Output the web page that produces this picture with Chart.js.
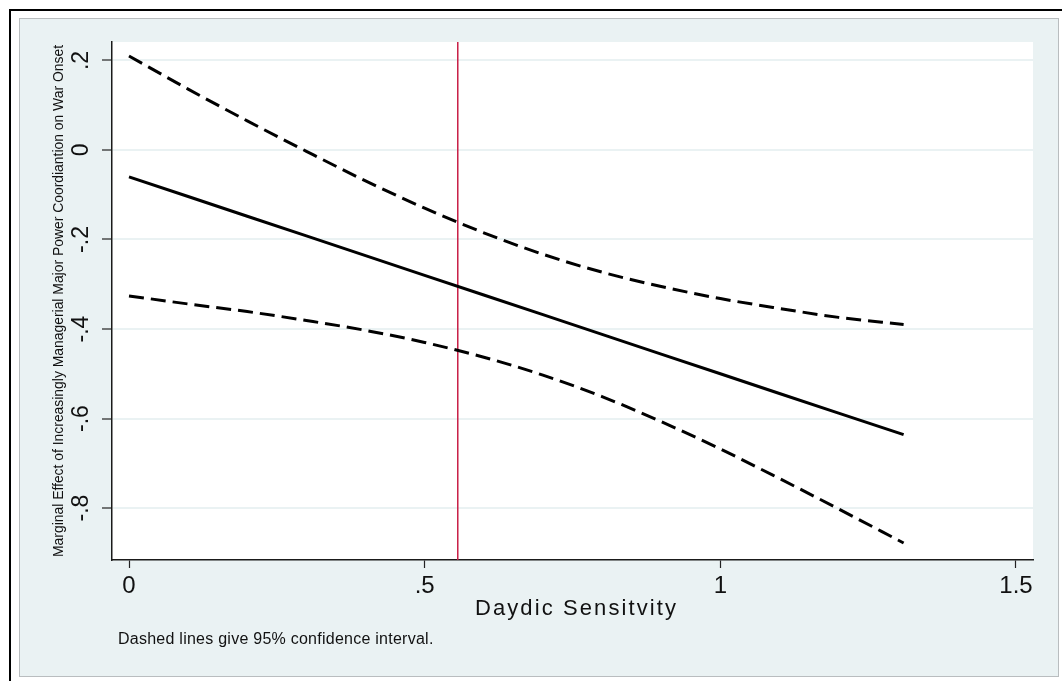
<!DOCTYPE html>
<html>
<head>
<meta charset="utf-8">
<script src="https://cdn.jsdelivr.net/npm/chart.js@4.4.1/dist/chart.umd.min.js"></script>
<style>
  html, body { margin: 0; padding: 0; background: #ffffff; }
  canvas { display: block; }
</style>
</head>
<body>
<canvas id="chart" width="1062" height="681"></canvas>
<script>
// Marginal effect of managerial major power coordination across dyadic sensitivity
const sensitivity    = [0, 0.1, 0.2, 0.3, 0.4, 0.5, 0.6, 0.7, 0.8, 0.9, 1.0, 1.1, 1.2, 1.31];
const marginalEffect = [-0.060, -0.104, -0.148, -0.192, -0.236, -0.280, -0.324, -0.368, -0.412, -0.456, -0.500, -0.544, -0.588, -0.636];
const upperBound     = [0.210, 0.136, 0.065, -0.003, -0.069, -0.130, -0.185, -0.233, -0.273, -0.305, -0.332, -0.354, -0.374, -0.390];
const lowerBound     = [-0.326, -0.344, -0.361, -0.381, -0.403, -0.430, -0.463, -0.503, -0.551, -0.607, -0.668, -0.734, -0.802, -0.878];
const referenceX     = [0.556];

const xTickValues = [0, 0.5, 1, 1.5];
const xTickLabels = ['0', '.5', '1', '1.5'];
const yTickValues = [0.2, 0, -0.2, -0.4, -0.6, -0.8];
const yTickLabels = ['.2', '0', '-.2', '-.4', '-.6', '-.8'];

const xTitle = 'Daydic Sensitvity';
const yTitle = 'Marginal Effect of Increasingly Managerial Major Power Coordiantion on War Onset';
const noteText = 'Dashed lines give 95% confidence interval.';

// axis limits
const X_MIN = -0.02875, X_MAX = 1.5288;
const Y_MIN = -0.916,   Y_MAX = 0.2412;

const FONT = '"Liberation Sans", Arial, Helvetica, sans-serif';
const PANEL = '#EAF2F3';

const toPoints = (xs, ys) => xs.map((x, i) => ({ x: x, y: ys[i] }));

// draw a string character by character with extra tracking
function trackedText(ctx, text, x, y, spacing) {
  let cx = x;
  for (const ch of text) {
    ctx.fillText(ch, cx, y);
    cx += ctx.measureText(ch).width + spacing;
  }
}
function trackedWidth(ctx, text, spacing) {
  let w = 0;
  for (const ch of text) w += ctx.measureText(ch).width + spacing;
  return w - spacing;
}

const framePlugin = {
  id: 'frame',
  beforeDraw(chart) {
    const { ctx, chartArea: a, width: W, height: H } = chart;
    ctx.save();
    ctx.fillStyle = '#ffffff';
    ctx.fillRect(0, 0, W, H);
    // outer black frame (top and left)
    ctx.fillStyle = '#000000';
    ctx.fillRect(9, 9, W - 9, 2);
    ctx.fillRect(9, 9, 2, H - 9);
    // graph region
    ctx.fillStyle = PANEL;
    ctx.fillRect(19.5, 18.5, 1039, 658);
    ctx.strokeStyle = '#b9bdbf';
    ctx.lineWidth = 1;
    ctx.strokeRect(19.5, 18.5, 1039, 658);
    // plot region
    ctx.fillStyle = '#ffffff';
    ctx.fillRect(a.left, a.top, a.right - a.left, a.bottom - a.top);
    ctx.restore();
  },
  afterDraw(chart) {
    const { ctx, chartArea: a } = chart;
    const ys = chart.scales.y;
    ctx.save();
    ctx.fillStyle = '#111111';

    // y tick labels, rotated
    ctx.font = '23px ' + FONT;
    ctx.textAlign = 'center';
    ctx.textBaseline = 'alphabetic';
    yTickValues.forEach((v, i) => {
      const py = ys.getPixelForValue(v);
      ctx.save();
      ctx.translate(88, py);
      ctx.rotate(-Math.PI / 2);
      ctx.fillText(yTickLabels[i], 0, 0);
      ctx.restore();
    });

    // y axis title, condensed, centred on the plot region
    ctx.save();
    ctx.font = '14px ' + FONT;
    ctx.textAlign = 'center';
    const tw = ctx.measureText(yTitle).width;
    ctx.translate(63, (a.top + a.bottom) / 2);
    ctx.rotate(-Math.PI / 2);
    ctx.scale(512 / tw, 1);
    ctx.fillText(yTitle, 0, 0);
    ctx.restore();

    // x axis title
    ctx.font = '22px ' + FONT;
    ctx.textAlign = 'left';
    const cx = (a.left + a.right) / 2 + 3;
    const xw = trackedWidth(ctx, xTitle, 2.1);
    trackedText(ctx, xTitle, cx - xw / 2, 615, 2.1);

    // note
    ctx.font = '16px ' + FONT;
    trackedText(ctx, noteText, 118, 644, 0.25);
    ctx.restore();
  }
};

new Chart(document.getElementById('chart'), {
  type: 'line',
  data: {
    datasets: [
      {
        label: 'reference',
        data: [{ x: referenceX[0], y: Y_MIN }, { x: referenceX[0], y: Y_MAX }],
        borderColor: '#c81e46',
        borderWidth: 1.5,
        pointRadius: 0,
        order: 5
      },
      {
        label: 'upper',
        data: toPoints(sensitivity, upperBound),
        borderColor: '#000000',
        borderWidth: 3,
        borderDash: [15, 7],
        pointRadius: 0,
        cubicInterpolationMode: 'monotone',
        order: 1
      },
      {
        label: 'estimate',
        data: toPoints(sensitivity, marginalEffect),
        borderColor: '#000000',
        borderWidth: 3,
        pointRadius: 0,
        order: 1
      },
      {
        label: 'lower',
        data: toPoints(sensitivity, lowerBound),
        borderColor: '#000000',
        borderWidth: 3,
        borderDash: [15, 7],
        pointRadius: 0,
        cubicInterpolationMode: 'monotone',
        order: 1
      }
    ]
  },
  options: {
    responsive: false,
    animation: false,
    devicePixelRatio: 1,
    layout: { autoPadding: false, padding: { left: 0, right: 29, top: 42, bottom: 0 } },
    plugins: { legend: { display: false }, tooltip: { enabled: false } },
    scales: {
      x: {
        type: 'linear',
        min: X_MIN,
        max: X_MAX,
        afterBuildTicks: s => { s.ticks = xTickValues.map(v => ({ value: v })); },
        afterFit: s => { s.height = 121; s.paddingLeft = 0; s.paddingRight = 0; },
        ticks: {
          autoSkip: false,
          maxRotation: 0,
          minRotation: 0,
          padding: 4,
          color: '#111111',
          font: { family: FONT, size: 24 },
          callback: v => xTickLabels[xTickValues.indexOf(v)]
        },
        grid: { drawOnChartArea: false, drawTicks: true, tickLength: 8, tickColor: '#222222', tickWidth: 1.2 },
        border: { display: true, color: '#1a1a1a', width: 1.5 }
      },
      y: {
        type: 'linear',
        min: Y_MIN,
        max: Y_MAX,
        afterBuildTicks: s => { s.ticks = yTickValues.map(v => ({ value: v })); },
        afterFit: s => { s.width = 112; },
        ticks: { display: false },
        grid: { color: PANEL, lineWidth: 2, drawTicks: true, tickLength: 10, tickColor: '#222222', tickWidth: 1.2 },
        border: { display: true, color: '#1a1a1a', width: 1.5 }
      }
    }
  },
  plugins: [framePlugin]
});
</script>
</body>
</html>
